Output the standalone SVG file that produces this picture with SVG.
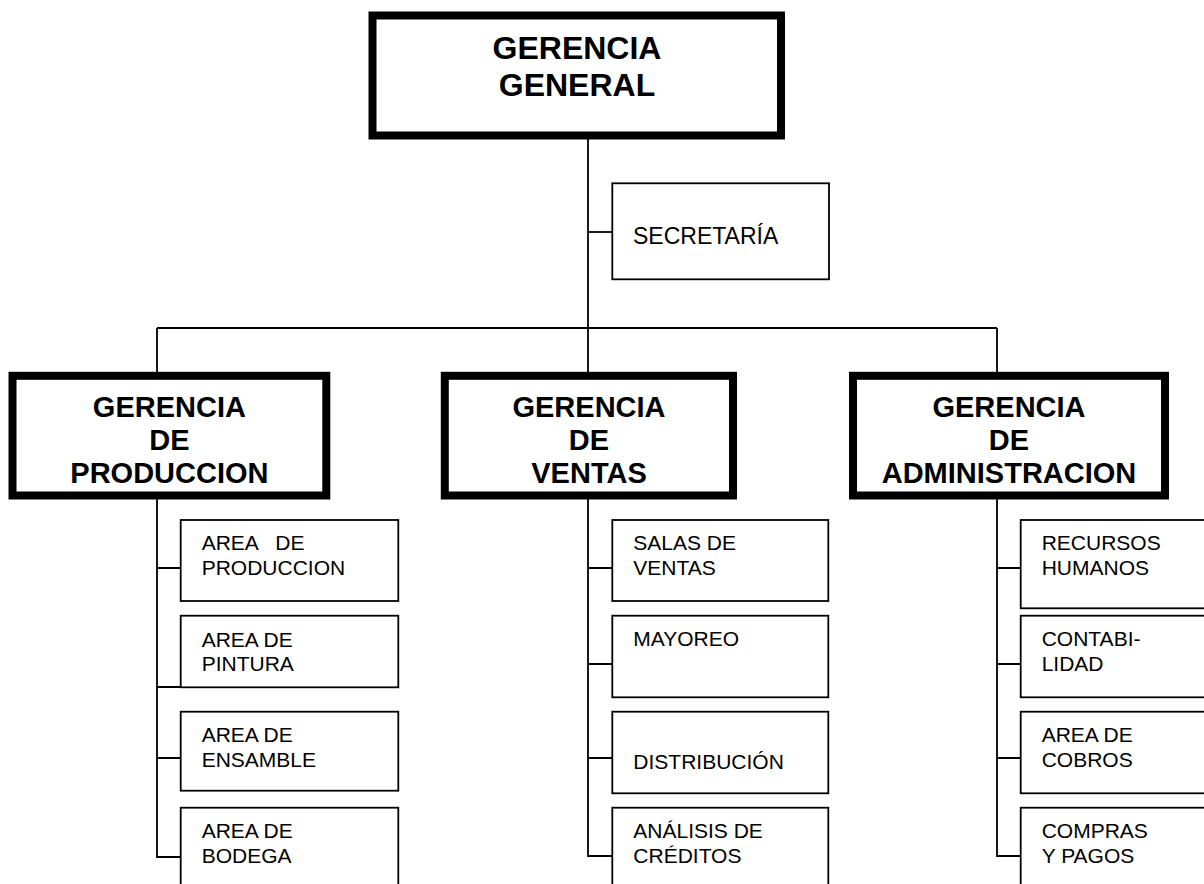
<svg xmlns="http://www.w3.org/2000/svg" width="1204" height="884" viewBox="0 0 1204 884">
  <style>
    .head { fill: #fff; stroke: #000; stroke-width: 8; }
    .box { fill: #fff; stroke: #000; stroke-width: 1.8; }
    .link { fill: none; stroke: #000; stroke-width: 1.8; }
    .tb { font-family: "Liberation Sans", Arial, sans-serif; font-weight: bold; fill: #000; text-anchor: middle; }
    .t { font-family: "Liberation Sans", Arial, sans-serif; font-size: 21px; fill: #000; }
    .t.big { font-size: 23px; }
  </style>
  <rect width="1204" height="884" fill="#fff"/>

  <!-- connectors -->
  <g id="connectors" class="link">
    <path d="M588 135 V376"/>
    <path d="M588 232 H612"/>
    <path d="M157 328 H997"/>
    <path d="M157 328 V376 M997 328 V376"/>
    <!-- produccion -->
    <path d="M157 495 V857 H181"/>
    <path d="M157 568 H181 M157 687 H181 M157 758 H181"/>
    <!-- ventas -->
    <path d="M588 495 V856 H612"/>
    <path d="M588 568 H612 M588 664 H612 M588 758 H612"/>
    <!-- administracion -->
    <path d="M997 495 V856 H1021"/>
    <path d="M997 568 H1021 M997 664 H1021 M997 758 H1021"/>
  </g>

  <g id="gerencia-general">
    <rect class="head" x="372.5" y="15.5" width="408.5" height="120"/>
    <text class="tb" x="577" y="59" font-size="32">GERENCIA</text>
    <text class="tb" x="577" y="96" font-size="32">GENERAL</text>
  </g>

  <g id="secretaria">
    <rect class="box" x="612.3" y="183.3" width="216.7" height="96"/>
    <text class="t big" x="633" y="244">SECRETARÍA</text>
  </g>

  <g id="gerencia-produccion">
    <rect class="head" x="12.5" y="375.8" width="313.8" height="119.7"/>
    <text class="tb" x="169.4" y="416.5" font-size="29">GERENCIA</text>
    <text class="tb" x="169.4" y="450" font-size="29">DE</text>
    <text class="tb" x="169.4" y="483" font-size="29">PRODUCCION</text>
  </g>

  <g id="gerencia-ventas">
    <rect class="head" x="444.8" y="375.8" width="288.2" height="119.7"/>
    <text class="tb" x="589" y="416.5" font-size="29">GERENCIA</text>
    <text class="tb" x="589" y="450" font-size="29">DE</text>
    <text class="tb" x="589" y="483" font-size="29">VENTAS</text>
  </g>

  <g id="gerencia-administracion">
    <rect class="head" x="853" y="375.8" width="312" height="119.7"/>
    <text class="tb" x="1009" y="416.5" font-size="29">GERENCIA</text>
    <text class="tb" x="1009" y="450" font-size="29">DE</text>
    <text class="tb" x="1009" y="483" font-size="29">ADMINISTRACION</text>
  </g>

  <!-- produccion units -->
  <g id="area-produccion">
    <rect class="box" x="180.7" y="520" width="217.6" height="81"/>
    <text class="t" x="201.7" y="550" xml:space="preserve">AREA   DE</text>
    <text class="t" x="201.7" y="575">PRODUCCION</text>
  </g>
  <g id="area-pintura">
    <rect class="box" x="180.7" y="615.7" width="217.6" height="71.6"/>
    <text class="t" x="201.7" y="646.5">AREA DE</text>
    <text class="t" x="201.7" y="671">PINTURA</text>
  </g>
  <g id="area-ensamble">
    <rect class="box" x="180.7" y="711.7" width="217.6" height="79"/>
    <text class="t" x="201.7" y="742.3">AREA DE</text>
    <text class="t" x="201.7" y="767.3">ENSAMBLE</text>
  </g>
  <g id="area-bodega">
    <rect class="box" x="180.7" y="807.7" width="217.6" height="90"/>
    <text class="t" x="201.7" y="838.3">AREA DE</text>
    <text class="t" x="201.7" y="863.3">BODEGA</text>
  </g>

  <!-- ventas units -->
  <g id="salas-ventas">
    <rect class="box" x="612.3" y="520" width="216" height="81"/>
    <text class="t" x="633.3" y="550">SALAS DE</text>
    <text class="t" x="633.3" y="575">VENTAS</text>
  </g>
  <g id="mayoreo">
    <rect class="box" x="612.3" y="615.7" width="216" height="81.6"/>
    <text class="t" x="633.3" y="645.7">MAYOREO</text>
  </g>
  <g id="distribucion">
    <rect class="box" x="612.3" y="711.7" width="216" height="81.6"/>
    <text class="t" x="633.3" y="769.3">DISTRIBUCIÓN</text>
  </g>
  <g id="analisis-creditos">
    <rect class="box" x="612.3" y="807.7" width="216" height="90"/>
    <text class="t" x="633.3" y="838.3">ANÁLISIS DE</text>
    <text class="t" x="633.3" y="863.3">CRÉDITOS</text>
  </g>

  <!-- administracion units -->
  <g id="recursos-humanos">
    <rect class="box" x="1020.7" y="520" width="200" height="88.3"/>
    <text class="t" x="1041.7" y="550">RECURSOS</text>
    <text class="t" x="1041.7" y="575">HUMANOS</text>
  </g>
  <g id="contabilidad">
    <rect class="box" x="1020.7" y="615.7" width="200" height="81.6"/>
    <text class="t" x="1041.7" y="645.7">CONTABI-</text>
    <text class="t" x="1041.7" y="670.7">LIDAD</text>
  </g>
  <g id="area-cobros">
    <rect class="box" x="1020.7" y="711.7" width="200" height="81.6"/>
    <text class="t" x="1041.7" y="742.3">AREA DE</text>
    <text class="t" x="1041.7" y="767.3">COBROS</text>
  </g>
  <g id="compras-pagos">
    <rect class="box" x="1020.7" y="807.7" width="200" height="90"/>
    <text class="t" x="1041.7" y="838.3">COMPRAS</text>
    <text class="t" x="1041.7" y="863.3">Y PAGOS</text>
  </g>
</svg>
